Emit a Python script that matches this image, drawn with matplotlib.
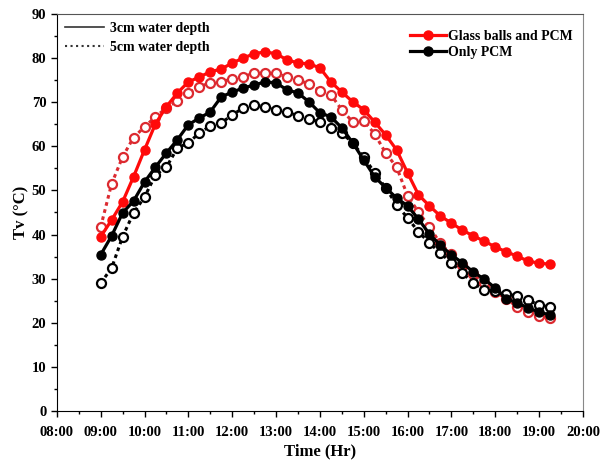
import matplotlib.pyplot as plt
from matplotlib.lines import Line2D
from matplotlib.ticker import MultipleLocator, FuncFormatter

plt.rcParams['font.family'] = 'Liberation Serif'
plt.rcParams['font.weight'] = 'bold'

times = ['09:00', '09:15', '09:30', '09:45', '10:00', '10:15', '10:30', '10:45',
         '11:00', '11:15', '11:30', '11:45', '12:00', '12:15', '12:30', '12:45',
         '13:00', '13:15', '13:30', '13:45', '14:00', '14:15', '14:30', '14:45',
         '15:00', '15:15', '15:30', '15:45', '16:00', '16:15', '16:30', '16:45',
         '17:00', '17:15', '17:30', '17:45', '18:00', '18:15', '18:30', '18:45',
         '19:00', '19:15']

# glass balls and PCM
glass_3cm = [39.5, 43.3, 47.4, 53.1, 59.2, 65.1, 69.0, 72.1, 74.6, 75.7, 76.9, 77.5,
             78.9, 80.0, 81.0, 81.4, 81.0, 79.6, 78.9, 78.7, 77.8, 74.6, 72.3, 70.1,
             68.3, 65.5, 62.6, 59.2, 54.0, 49.0, 46.5, 44.2, 42.6, 41.0, 39.7, 38.5,
             37.2, 36.1, 35.1, 34.0, 33.5, 33.3]
glass_5cm = [41.7, 51.5, 57.6, 62.0, 64.4, 66.7, 68.7, 70.3, 72.1, 73.5, 74.4, 74.6,
             75.3, 75.8, 76.6, 76.6, 76.6, 75.7, 75.1, 74.1, 72.6, 71.7, 68.3, 65.5,
             65.8, 62.8, 58.5, 55.3, 48.8, 45.1, 41.7, 38.0, 35.5, 33.0, 31.0, 29.0,
             27.0, 25.5, 23.6, 22.5, 21.6, 21.0]
# only PCM
pcm_3cm = [35.4, 39.7, 44.9, 47.6, 51.9, 55.3, 58.5, 61.5, 64.9, 66.4, 67.8, 71.2,
           72.3, 73.2, 73.9, 74.6, 74.4, 72.8, 72.1, 70.1, 67.6, 66.7, 64.2, 60.8,
           56.9, 53.1, 50.6, 48.3, 46.5, 43.5, 40.1, 37.6, 35.4, 33.6, 31.5, 29.9,
           27.9, 25.5, 24.5, 23.4, 22.4, 21.8]
pcm_5cm = [29.0, 32.4, 39.5, 44.9, 48.5, 53.5, 55.3, 59.6, 60.8, 63.0, 64.6, 65.3,
           67.1, 68.7, 69.4, 68.9, 68.3, 67.8, 66.9, 66.2, 65.5, 64.2, 63.0, 60.8,
           57.6, 54.0, 50.6, 46.7, 43.8, 40.6, 38.1, 35.8, 33.6, 31.3, 29.0, 27.4,
           27.2, 26.5, 26.1, 25.2, 24.0, 23.6]

hrs = [int(t[:2]) + int(t[3:]) / 60 for t in times]

fig = plt.figure(figsize=(6.11, 4.66), dpi=100)
ax = fig.add_axes([0.093, 0.118, 0.861, 0.852])

red = '#ff0a0a'
red_open = '#dc2a30'
ms = 6.5

ax.plot(hrs, glass_5cm, color=red_open, lw=2.2, ls=(0, (1.2, 1.2)), marker='o', ms=ms,
        mfc='white', mec=red_open, mew=1.6)
ax.plot(hrs, pcm_5cm, color='black', lw=2.2, ls=(0, (1.2, 1.2)), marker='o', ms=ms,
        mfc='white', mec='black', mew=1.6)
ax.plot(hrs, glass_3cm, '-', color=red, lw=2.3, marker='o', ms=ms)
ax.plot(hrs, pcm_3cm, '-', color='black', lw=2.3, marker='o', ms=ms)

ax.set_xlim(8, 20)
ax.set_ylim(0, 90)
ax.xaxis.set_major_locator(MultipleLocator(1))
ax.xaxis.set_minor_locator(MultipleLocator(0.5))
ax.xaxis.set_major_formatter(FuncFormatter(lambda v, p: '%02d:00' % int(round(v))))
ax.yaxis.set_major_locator(MultipleLocator(10))
ax.yaxis.set_minor_locator(MultipleLocator(5))
ax.tick_params(which='major', direction='out', length=4, width=1, labelsize=10.5)
ax.tick_params(axis='x', which='major', pad=7)
ax.tick_params(which='minor', direction='out', length=2.5, width=1)
ax.spines['right'].set_color('#888888')
ax.spines['top'].set_color('#555555')

ax.set_xlabel('Time (Hr)', fontsize=12, fontweight='bold', labelpad=3)
ax.set_ylabel('Tv (\u00b0C)', fontsize=12, fontweight='bold', labelpad=2)

depth_handles = [Line2D([], [], color='#333333', lw=1.2, ls='-'),
                 Line2D([], [], color='#333333', lw=1.5, ls=':')]
leg1 = ax.legend(depth_handles, ['3cm water depth', '5cm water depth'],
                 loc='upper left', bbox_to_anchor=(0.0, 1.0), frameon=False,
                 fontsize=10, handlelength=2.8, handletextpad=0.4,
                 labelspacing=0.4, borderaxespad=0.2)
ax.add_artist(leg1)

case_handles = [Line2D([], [], color=red, lw=2.3, marker='o', ms=ms),
                Line2D([], [], color='black', lw=2.3, marker='o', ms=ms)]
ax.legend(case_handles, ['Glass balls and PCM', 'Only PCM'],
          loc='upper right', bbox_to_anchor=(1.0, 0.985), frameon=False,
          fontsize=10, handlelength=2.6, handletextpad=0.2,
          labelspacing=0.25, borderaxespad=0.3)

fig.savefig('out.png', dpi=100)
